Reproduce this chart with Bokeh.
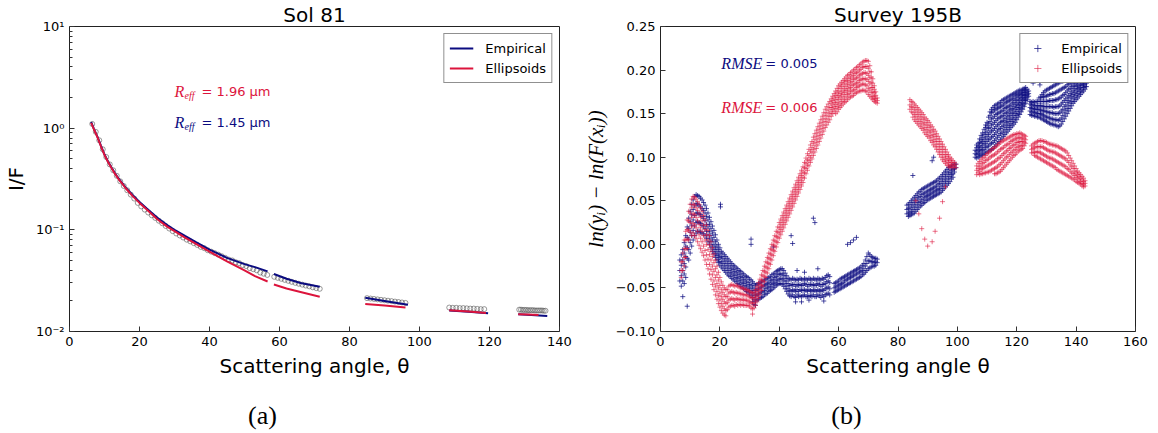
from bokeh.plotting import figure
from bokeh.layouts import row, column
from bokeh.models import (Range1d, FixedTicker, CustomJSTickFormatter, Label)
from bokeh.core.properties import value
from bokeh.embed import file_html
from bokeh.resources import INLINE

# ---------------- Panel (a): Sol 81 ----------------
emp_theta = [[6.2, 7, 8, 9, 10, 11, 12, 13, 14, 15, 16, 18, 20, 22, 25, 28, 30, 33, 36, 40, 45, 50, 53, 56.6],
             [58.4, 62, 66, 71.5], [84.5, 90, 96.7], [108.5, 114, 119.6], [128.2, 132, 136.5]]
emp_val = [[1.15, 0.98, 0.82, 0.67, 0.55, 0.47, 0.41, 0.36, 0.32, 0.29, 0.262, 0.22, 0.188, 0.163, 0.132,
            0.111, 0.100, 0.087, 0.076, 0.064, 0.053, 0.046, 0.043, 0.039],
           [0.0368, 0.033, 0.030, 0.0275], [0.0215, 0.020, 0.0183], [0.0161, 0.0156, 0.0151],
           [0.0148, 0.0145, 0.0142]]
ell_theta = [[6.2, 7, 8, 9, 10, 11, 12, 13, 14, 15, 16, 18, 20, 22, 25, 28, 30, 33, 36, 40, 45, 50, 53, 56.6],
             [58.4, 62, 66, 71.5], [84.5, 90, 96], [108.5, 114, 119], [128.2, 131, 134]]
ell_val = [[1.13, 0.97, 0.81, 0.66, 0.545, 0.465, 0.405, 0.355, 0.316, 0.286, 0.258, 0.216, 0.184, 0.159,
            0.128, 0.107, 0.097, 0.084, 0.073, 0.061, 0.049, 0.040, 0.035, 0.031],
           [0.029, 0.0265, 0.0245, 0.022], [0.0186, 0.018, 0.0172], [0.0162, 0.0157, 0.0152],
           [0.0148, 0.0147, 0.0145]]
obs_theta = [6.5, 7.5, 8.5, 9.5, 10.5, 11.5, 12.5, 13.5, 14.5, 15.5, 16.5, 17.5, 18.5, 19.5, 20.5, 21.5,
             22.5, 23.5, 24.5, 25.5, 26.5, 27.5, 28.5, 29.5, 30.5, 31.5, 32.5, 33.5, 34.5, 35.5, 36.5, 37.5,
             38.5, 39.5, 40.5, 41.5, 42.5, 43.5, 44.5, 45.5, 46.5, 47.5, 48.5, 49.5, 50.5, 51.5, 52.5, 53.5,
             54.5, 55.5, 56.5,
             58.5, 59.5, 60.5, 61.5, 62.5, 63.5, 64.5, 65.5, 66.5, 67.5, 68.5, 69.5, 70.5, 71.5,
             85, 86, 87, 88, 89, 90, 91, 92, 93, 94, 95, 96,
             108.5, 109.5, 110.5, 111.5, 112.5, 113.5, 114.5, 115.5, 116.5, 117.5, 118.5,
             128.5, 129, 129.5, 130, 130.5, 131, 131.5, 132, 132.5, 133, 133.5, 134, 134.5, 135, 135.5, 136]
obs_val = [1.10, 0.92, 0.76, 0.62, 0.52, 0.44, 0.385, 0.34, 0.30, 0.27, 0.245, 0.222, 0.203, 0.184, 0.170,
           0.158, 0.148, 0.139, 0.131, 0.123, 0.116, 0.109, 0.103, 0.097, 0.092, 0.088, 0.084, 0.080, 0.077,
           0.074, 0.071, 0.068, 0.066, 0.063, 0.061, 0.059, 0.057, 0.055, 0.053, 0.051, 0.050, 0.048, 0.047,
           0.045, 0.044, 0.042, 0.041, 0.040, 0.038, 0.037, 0.036,
           0.0345, 0.0337, 0.0330, 0.0322, 0.0315, 0.0308, 0.0301, 0.0295, 0.0289, 0.0283, 0.0278, 0.0272,
           0.0267, 0.0263,
           0.0213, 0.0211, 0.0209, 0.0207, 0.0205, 0.0203, 0.0201, 0.0199, 0.0197, 0.0195, 0.0193, 0.0191,
           0.0172, 0.0171, 0.0171, 0.0170, 0.0170, 0.0169, 0.0168, 0.0168, 0.0167, 0.0166, 0.0166,
           0.0164, 0.0164, 0.0163, 0.0163, 0.0163, 0.0162, 0.0162, 0.0162, 0.0162, 0.0161, 0.0161, 0.0161,
           0.0161, 0.0161, 0.0160, 0.0160]
a_xticks = [0, 20, 40, 60, 80, 100, 120, 140]
a_yticks = [0.01, 0.1, 1, 10]
a_reff = ["1.96", "1.45"]

# ---------------- Panel (b): Survey 195B ----------------
emp_rows = [
    (6.5, [-0.018, -0.03, -0.042]), (7.0, [-0.012, -0.024, -0.036, -0.048]),
    (7.5, [-0.006, -0.018, -0.03, -0.042, -0.06]), (8.0, [0.002, -0.01, -0.022, -0.034, -0.045]),
    (8.5, [0.01, -0.002, -0.014, -0.026, -0.038]), (9.0, [0.02, 0.008, -0.004, -0.016, -0.071]),
    (9.5, [0.03, 0.018, 0.006, -0.006, -0.018]), (10.0, [0.038, 0.026, 0.014, 0.002, -0.01]),
    (10.5, [0.046, 0.034, 0.022, 0.01, -0.002]), (11.0, [0.051, 0.04, 0.028, 0.016, 0.005]),
    (11.5, [0.055, 0.044, 0.033, 0.021, 0.01]), (12.0, [0.057, 0.047, 0.036, 0.025, 0.013]),
    (12.5, [0.056, 0.046, 0.036, 0.026, 0.015]), (13.0, [0.055, 0.045, 0.035, 0.025, 0.015]),
    (13.5, [0.053, 0.043, 0.034, 0.024, 0.014]), (14.0, [0.051, 0.041, 0.032, 0.022, 0.013]),
    (14.5, [0.048, 0.039, 0.03, 0.021, 0.012]), (15.0, [0.045, 0.036, 0.027, 0.018, 0.01]),
    (15.5, [0.041, 0.032, 0.023, 0.015, 0.007]), (16.0, [0.036, 0.028, 0.02, 0.011, 0.003]),
    (16.5, [0.031, 0.023, 0.015, 0.007, 0.0]), (17.0, [0.026, 0.018, 0.01, 0.003, -0.004]),
    (17.5, [0.021, 0.013, 0.005, -0.002, -0.008]), (18.0, [0.016, 0.008, 0.0, -0.006, -0.011]),
    (18.5, [0.011, 0.003, -0.004, -0.01, -0.015]), (19.0, [0.005, -0.002, -0.008, -0.013, -0.018]),
    (19.5, [0.0, -0.006, -0.012, -0.017, -0.021]), (20.0, [-0.004, -0.01, -0.015, -0.02, -0.024]),
    (20.2, [0.046, 0.043]),
    (20.5, [-0.008, -0.014, -0.02, -0.026]), (21.0, [-0.01, -0.016, -0.022, -0.028]),
    (21.5, [-0.012, -0.018, -0.024, -0.03]), (22.0, [-0.014, -0.02, -0.026, -0.032]),
    (22.5, [-0.016, -0.022, -0.028, -0.034]), (23.0, [-0.018, -0.024, -0.03, -0.036]),
    (23.5, [-0.02, -0.026, -0.032, -0.037]), (24.0, [-0.022, -0.028, -0.033, -0.039]),
    (24.5, [-0.024, -0.029, -0.035, -0.04]), (25.0, [-0.025, -0.031, -0.036, -0.042]),
    (25.5, [-0.027, -0.032, -0.038, -0.043]), (26.0, [-0.028, -0.034, -0.039, -0.045]),
    (26.5, [-0.03, -0.035, -0.041, -0.046]), (27.0, [-0.031, -0.037, -0.042, -0.048]),
    (27.5, [-0.033, -0.038, -0.044, -0.049]), (28.0, [-0.034, -0.04, -0.045, -0.051]),
    (28.5, [-0.036, -0.041, -0.047, -0.052]), (29.0, [-0.037, -0.043, -0.048, -0.054]),
    (29.5, [-0.038, -0.044, -0.05, -0.055]), (30.0, [-0.04, -0.046, -0.051, -0.057]),
    (30.5, [0.006, 0.0, -0.041, -0.047, -0.053, -0.059]), (31.0, [-0.043, -0.049, -0.055, -0.061, -0.066]),
    (31.5, [-0.045, -0.051, -0.057, -0.063, -0.069]), (32.0, [-0.047, -0.053, -0.059, -0.065, -0.07]),
    (32.5, [-0.046, -0.052, -0.058, -0.064]), (33.0, [-0.045, -0.051, -0.057, -0.063]),
    (33.5, [-0.044, -0.05, -0.056, -0.062]), (34.0, [-0.043, -0.049, -0.055, -0.061]),
    (34.5, [-0.042, -0.048, -0.054, -0.06]), (35.0, [-0.041, -0.047, -0.053, -0.058]),
    (35.5, [-0.04, -0.046, -0.051, -0.057]), (36.0, [-0.039, -0.045, -0.05, -0.056]),
    (36.5, [-0.038, -0.044, -0.049, -0.054]), (37.0, [-0.037, -0.042, -0.048, -0.053]),
    (37.5, [-0.035, -0.041, -0.046, -0.052]), (38.0, [-0.034, -0.04, -0.045, -0.05, -0.003]),
    (38.5, [-0.033, -0.038, -0.044, -0.049]), (39.0, [-0.031, -0.037, -0.042, -0.047]),
    (39.5, [-0.03, -0.035, -0.041, -0.046]), (40.0, [-0.029, -0.034, -0.04, -0.045]),
    (40.5, [-0.028, -0.034, -0.039, -0.045]), (41.0, [-0.028, -0.034, -0.04, -0.046]),
    (41.5, [-0.03, -0.036, -0.042, -0.048]), (42.0, [-0.033, -0.039, -0.045, -0.051]),
    (42.5, [-0.036, -0.042, -0.048, -0.054]), (43.0, [-0.039, -0.045, -0.051, -0.057]),
    (43.5, [-0.04, -0.047, -0.053, -0.059]), (44.0, [-0.041, -0.047, -0.054, -0.06, 0.01]),
    (44.5, [-0.039, -0.046, -0.052, -0.058, 0.001]), (45.0, [-0.04, -0.046, -0.053, -0.06]),
    (45.5, [-0.041, -0.048, -0.054, -0.061, -0.066]), (46.0, [-0.04, -0.046, -0.052, -0.058, -0.03]),
    (46.5, [-0.041, -0.047, -0.054, -0.06]), (47.0, [-0.039, -0.046, -0.052, -0.059]),
    (47.5, [-0.04, -0.047, -0.053, -0.06, -0.066]), (48.0, [-0.041, -0.047, -0.053, -0.059]),
    (48.5, [-0.039, -0.045, -0.052, -0.058, -0.032]), (49.0, [-0.04, -0.046, -0.053, -0.06]),
    (49.5, [-0.041, -0.048, -0.054, -0.06]), (50.0, [-0.039, -0.046, -0.052, -0.059, -0.064]),
    (50.5, [-0.04, -0.046, -0.053, -0.059]), (51.0, [-0.041, -0.047, -0.054, -0.06]),
    (51.5, [-0.039, -0.046, -0.052, -0.058, 0.03]), (52.0, [-0.04, -0.047, -0.053, -0.06, 0.025]),
    (52.5, [-0.041, -0.047, -0.054, -0.06]), (53.0, [-0.039, -0.045, -0.052, -0.058, -0.028]),
    (53.5, [-0.04, -0.046, -0.053, -0.059]), (54.0, [-0.041, -0.048, -0.054, -0.061]),
    (54.5, [-0.039, -0.046, -0.052, -0.058]), (55.0, [-0.04, -0.046, -0.053, -0.06, -0.065]),
    (55.5, [-0.038, -0.045, -0.051, -0.058]), (56.0, [-0.036, -0.043, -0.05, -0.057]),
    (56.5, [-0.035, -0.042, -0.049, -0.056]), (57.0, [-0.037, -0.044, -0.051, -0.058]),
    (58.5, [-0.045, -0.05, -0.055]), (59.0, [-0.044, -0.049, -0.054]), (59.5, [-0.043, -0.048, -0.053]),
    (60.0, [-0.042, -0.047, -0.052]), (60.5, [-0.04, -0.046, -0.051]), (61.0, [-0.039, -0.045, -0.05]),
    (61.5, [-0.038, -0.044, -0.049]), (62.0, [-0.037, -0.042, -0.048]), (62.5, [-0.036, -0.041, -0.047]),
    (63.0, [-0.035, -0.04, -0.046, 0.0]), (63.5, [-0.034, -0.039, -0.045]),
    (64.0, [-0.033, -0.038, -0.044, 0.002]), (64.5, [-0.032, -0.037, -0.043]),
    (65.0, [-0.031, -0.036, -0.042, 0.005]), (65.5, [-0.03, -0.035, -0.041]),
    (66.0, [-0.029, -0.034, -0.04, 0.008]), (66.5, [-0.028, -0.033, -0.039]),
    (67.0, [-0.027, -0.032, -0.038]), (67.5, [-0.026, -0.031, -0.037]), (68.0, [-0.024, -0.03, -0.035]),
    (68.5, [-0.022, -0.028, -0.034]), (69.0, [-0.018, -0.025, -0.032]), (69.5, [-0.014, -0.022, -0.03]),
    (70.0, [-0.01, -0.019, -0.028]), (70.5, [-0.012, -0.019, -0.027]), (71.0, [-0.014, -0.02, -0.026]),
    (71.5, [-0.015, -0.02, -0.025]), (72.0, [-0.016, -0.021, -0.025]), (72.5, [-0.016, -0.02, -0.024]),
    (73.0, [-0.017, -0.021]),
    (83.0, [0.045, 0.04, 0.035]), (83.5, [0.046, 0.041, 0.036, 0.032]), (84.0, [0.048, 0.042, 0.037, 0.033]),
    (84.5, [0.05, 0.044, 0.038, 0.034]), (85.0, [0.052, 0.046, 0.04, 0.035, 0.079]),
    (85.5, [0.054, 0.048, 0.042, 0.036]), (86.0, [0.056, 0.05, 0.044, 0.038]),
    (86.5, [0.058, 0.052, 0.046, 0.04]), (87.0, [0.06, 0.054, 0.048, 0.042]),
    (87.5, [0.061, 0.055, 0.049, 0.044]), (88.0, [0.063, 0.057, 0.051, 0.045]),
    (88.5, [0.064, 0.058, 0.052, 0.047]), (89.0, [0.065, 0.059, 0.054, 0.048]),
    (89.5, [0.066, 0.06, 0.055, 0.05]), (90.0, [0.067, 0.061, 0.056, 0.051]),
    (90.5, [0.068, 0.062, 0.057, 0.052]), (91.0, [0.069, 0.063, 0.058, 0.053]),
    (91.5, [0.07, 0.064, 0.059, 0.054, 0.096]), (92.0, [0.071, 0.065, 0.06, 0.055, 0.1]),
    (92.5, [0.072, 0.066, 0.061, 0.056]), (93.0, [0.073, 0.067, 0.062, 0.057]),
    (93.5, [0.075, 0.069, 0.063, 0.058]), (94.0, [0.076, 0.07, 0.064, 0.059]),
    (94.5, [0.078, 0.072, 0.066, 0.06]), (95.0, [0.08, 0.074, 0.068, 0.062]),
    (95.5, [0.082, 0.076, 0.07, 0.064]), (96.0, [0.084, 0.078, 0.072, 0.066]),
    (96.5, [0.086, 0.08, 0.074, 0.068]), (97.0, [0.088, 0.082, 0.076, 0.07]),
    (97.5, [0.089, 0.083, 0.078, 0.072]), (98.0, [0.09, 0.085, 0.08, 0.075]),
    (98.5, [0.091, 0.086, 0.081, 0.077]), (99.0, [0.092, 0.087, 0.083]), (99.5, [0.092, 0.088]),
    (106.0, [0.100, 0.104, 0.108]), (106.5, [0.099, 0.103, 0.107, 0.111, 0.114]),
    (107.0, [0.100, 0.104, 0.108, 0.112, 0.116]), (107.5, [0.101, 0.105, 0.109, 0.113, 0.117, 0.121]),
    (108.0, [0.102, 0.107, 0.111, 0.116, 0.120, 0.125]), (108.5, [0.103, 0.108, 0.113, 0.118, 0.123, 0.128]),
    (109.0, [0.104, 0.109, 0.115, 0.120, 0.126, 0.132]), (109.5, [0.105, 0.111, 0.116, 0.122, 0.128, 0.134, 0.137]),
    (110.0, [0.106, 0.112, 0.118, 0.124, 0.130, 0.136, 0.140]),
    (110.5, [0.107, 0.113, 0.120, 0.126, 0.133, 0.139, 0.146]),
    (111.0, [0.108, 0.115, 0.121, 0.128, 0.134, 0.141, 0.148, 0.152]),
    (111.5, [0.109, 0.116, 0.123, 0.130, 0.137, 0.144, 0.151, 0.155]),
    (112.0, [0.110, 0.117, 0.124, 0.131, 0.138, 0.145, 0.152, 0.157]),
    (112.5, [0.112, 0.119, 0.126, 0.133, 0.140, 0.147, 0.154, 0.159]),
    (113.0, [0.114, 0.121, 0.128, 0.135, 0.142, 0.149, 0.155, 0.160]),
    (113.5, [0.116, 0.123, 0.130, 0.137, 0.144, 0.150, 0.156, 0.161]),
    (114.0, [0.118, 0.125, 0.132, 0.138, 0.145, 0.151, 0.157, 0.162]),
    (114.5, [0.120, 0.127, 0.133, 0.140, 0.146, 0.152, 0.158, 0.163]),
    (115.0, [0.122, 0.128, 0.135, 0.141, 0.147, 0.153, 0.159, 0.165]),
    (115.5, [0.124, 0.130, 0.136, 0.142, 0.148, 0.154, 0.160, 0.166]),
    (116.0, [0.126, 0.132, 0.138, 0.144, 0.150, 0.156, 0.162, 0.167]),
    (116.5, [0.128, 0.134, 0.140, 0.145, 0.151, 0.157, 0.163, 0.168]),
    (117.0, [0.130, 0.136, 0.141, 0.147, 0.152, 0.158, 0.164, 0.169]),
    (117.5, [0.132, 0.137, 0.143, 0.148, 0.154, 0.159, 0.165, 0.170]),
    (118.0, [0.134, 0.139, 0.144, 0.150, 0.155, 0.160, 0.166, 0.171]),
    (118.5, [0.136, 0.141, 0.146, 0.151, 0.156, 0.162, 0.167, 0.172]),
    (119.0, [0.138, 0.143, 0.148, 0.153, 0.158, 0.163, 0.168, 0.173]),
    (119.5, [0.140, 0.145, 0.150, 0.155, 0.160, 0.165, 0.170, 0.174]),
    (120.0, [0.143, 0.148, 0.152, 0.157, 0.161, 0.166, 0.171, 0.175]),
    (120.5, [0.146, 0.150, 0.155, 0.159, 0.163, 0.168, 0.172, 0.176]),
    (121.0, [0.149, 0.153, 0.157, 0.161, 0.165, 0.169, 0.173, 0.177]),
    (121.5, [0.152, 0.156, 0.160, 0.163, 0.167, 0.171, 0.174, 0.177]),
    (122.0, [0.155, 0.159, 0.162, 0.166, 0.169, 0.172, 0.175, 0.178]),
    (122.5, [0.158, 0.161, 0.165, 0.168, 0.171, 0.174, 0.177, 0.179]),
    (123.0, [0.162, 0.165, 0.168, 0.171, 0.174, 0.177, 0.180]),
    (123.5, [0.166, 0.169, 0.172, 0.175, 0.178]), (124.0, [0.170, 0.173, 0.176]),
    (125.5, [0.188, 0.185]), (127.8, [0.187, 0.183]),
    (124.5, [0.149, 0.153, 0.157, 0.161, 0.164]), (125.0, [0.148, 0.152, 0.156, 0.160, 0.163]),
    (125.5, [0.148, 0.152, 0.156, 0.160, 0.164]), (126.0, [0.147, 0.151, 0.155, 0.159, 0.163]),
    (126.5, [0.147, 0.151, 0.155, 0.159, 0.164]), (127.0, [0.146, 0.150, 0.155, 0.159, 0.164]),
    (127.5, [0.146, 0.150, 0.155, 0.159, 0.164, 0.168]), (128.0, [0.145, 0.150, 0.154, 0.159, 0.164, 0.169]),
    (128.5, [0.144, 0.149, 0.154, 0.159, 0.164, 0.169, 0.172]),
    (129.0, [0.143, 0.148, 0.153, 0.158, 0.164, 0.169, 0.174]),
    (129.5, [0.142, 0.147, 0.153, 0.158, 0.164, 0.170, 0.176]),
    (130.0, [0.141, 0.146, 0.152, 0.158, 0.164, 0.170, 0.177]),
    (130.5, [0.140, 0.146, 0.152, 0.158, 0.164, 0.171, 0.178]),
    (131.0, [0.139, 0.145, 0.151, 0.158, 0.165, 0.172, 0.179]),
    (131.5, [0.138, 0.144, 0.151, 0.158, 0.165, 0.172, 0.180]),
    (132.0, [0.138, 0.144, 0.151, 0.158, 0.165, 0.173, 0.181]),
    (132.5, [0.137, 0.143, 0.150, 0.157, 0.165, 0.173, 0.182]),
    (133.0, [0.137, 0.143, 0.150, 0.158, 0.166, 0.174, 0.183]),
    (133.5, [0.136, 0.143, 0.150, 0.158, 0.166, 0.175, 0.184]),
    (134.0, [0.135, 0.142, 0.150, 0.158, 0.167, 0.176, 0.185]),
    (134.5, [0.136, 0.143, 0.151, 0.159, 0.168, 0.177, 0.186]),
    (135.0, [0.138, 0.145, 0.153, 0.161, 0.169, 0.178, 0.187]),
    (135.5, [0.141, 0.148, 0.155, 0.163, 0.171, 0.179, 0.187]),
    (136.0, [0.144, 0.151, 0.158, 0.165, 0.172, 0.180, 0.188]),
    (136.5, [0.147, 0.154, 0.160, 0.167, 0.174, 0.181, 0.189]),
    (137.0, [0.150, 0.156, 0.163, 0.169, 0.176, 0.183, 0.190]),
    (137.5, [0.153, 0.159, 0.165, 0.171, 0.178, 0.184, 0.190]),
    (138.0, [0.156, 0.162, 0.168, 0.173, 0.179, 0.185, 0.191]),
    (138.5, [0.159, 0.164, 0.170, 0.175, 0.181, 0.186, 0.192]),
    (139.0, [0.162, 0.167, 0.172, 0.177, 0.182, 0.187, 0.192]),
    (139.5, [0.164, 0.169, 0.174, 0.179, 0.184, 0.189, 0.193]),
    (140.0, [0.166, 0.171, 0.176, 0.181, 0.185, 0.190, 0.194]),
    (140.5, [0.168, 0.173, 0.178, 0.182, 0.187, 0.191, 0.195]),
    (141.0, [0.170, 0.175, 0.179, 0.183, 0.188, 0.192, 0.195]),
    (141.5, [0.172, 0.176, 0.180, 0.184, 0.188, 0.192]), (142.0, [0.174, 0.178, 0.182, 0.185, 0.189, 0.192]),
    (142.5, [0.176, 0.180, 0.183, 0.186, 0.189]), (143.0, [0.178, 0.181, 0.184, 0.187]),
    (143.5, [0.181, 0.185]),
]
ell_rows = [
    (7.0, [-0.02, -0.03, -0.038]), (7.5, [-0.01, -0.02, -0.03]), (8.0, [0.005, -0.005, -0.015, -0.025]),
    (8.5, [0.015, 0.005, -0.005, -0.015]), (9.0, [0.028, 0.017, 0.006, -0.005]),
    (9.5, [0.038, 0.027, 0.016, 0.005]), (10.0, [0.046, 0.036, 0.025, 0.014]),
    (10.5, [0.052, 0.042, 0.031, 0.02, 0.01]), (11.0, [0.055, 0.046, 0.035, 0.024, 0.013]),
    (11.5, [0.054, 0.045, 0.034, 0.022, 0.01]), (12.0, [0.052, 0.042, 0.031, 0.019, 0.007]),
    (12.5, [0.049, 0.039, 0.027, 0.015, 0.003]), (13.0, [0.046, 0.035, 0.023, 0.011, -0.001]),
    (13.5, [0.042, 0.031, 0.019, 0.007, -0.005]), (14.0, [0.038, 0.027, 0.015, 0.003, -0.009]),
    (14.5, [0.033, 0.022, 0.01, -0.002, -0.013]), (15.0, [0.028, 0.017, 0.005, -0.007, -0.018]),
    (15.5, [0.022, 0.011, 0.0, -0.012, -0.023]), (16.0, [0.016, 0.005, -0.006, -0.017, -0.028]),
    (16.5, [0.01, -0.001, -0.012, -0.023, -0.034]), (17.0, [0.003, -0.008, -0.018, -0.029, -0.04]),
    (17.5, [-0.004, -0.014, -0.025, -0.035, -0.046]), (18.0, [-0.011, -0.021, -0.031, -0.042, -0.052]),
    (18.5, [-0.018, -0.028, -0.038, -0.048, -0.058]), (19.0, [-0.025, -0.035, -0.045, -0.054, -0.063]),
    (19.5, [-0.032, -0.041, -0.05, -0.059, -0.068]), (20.0, [-0.038, -0.047, -0.056, -0.064, -0.072]),
    (20.5, [-0.043, -0.052, -0.06, -0.068, -0.076]), (21.0, [-0.047, -0.055, -0.063, -0.071, -0.079]),
    (21.5, [-0.05, -0.058, -0.066, -0.074, -0.081]), (22.0, [-0.052, -0.06, -0.068, -0.076, -0.082]),
    (22.5, [-0.052, -0.06, -0.067, -0.075]), (23.0, [-0.048, -0.056, -0.064, -0.072]),
    (23.5, [-0.047, -0.055, -0.063, -0.071]), (24.0, [-0.046, -0.054, -0.062, -0.07]),
    (24.5, [-0.047, -0.055, -0.063, -0.07]), (25.0, [-0.048, -0.056, -0.064, -0.071]),
    (25.5, [-0.047, -0.055, -0.062, -0.069]), (26.0, [-0.048, -0.056, -0.063, -0.07]),
    (26.5, [-0.049, -0.056, -0.063, -0.069]), (27.0, [-0.05, -0.057, -0.064, -0.07]),
    (27.5, [-0.05, -0.057, -0.063, -0.069]), (28.0, [-0.051, -0.058, -0.064, -0.07]),
    (28.5, [-0.052, -0.058, -0.064, -0.07]), (29.0, [-0.052, -0.058, -0.064, -0.07]),
    (29.5, [-0.053, -0.059, -0.065, -0.07]), (30.0, [-0.054, -0.06, -0.066, -0.071]),
    (30.5, [-0.055, -0.061, -0.067, -0.073]), (31.0, [-0.056, -0.062, -0.068, -0.074, -0.08]),
    (31.5, [-0.055, -0.061, -0.067, -0.073]), (32.0, [-0.052, -0.058, -0.064, -0.07]),
    (32.5, [-0.048, -0.054, -0.06, -0.066]), (33.0, [-0.044, -0.05, -0.056, -0.062]),
    (33.5, [-0.04, -0.046, -0.052, -0.058]), (34.0, [-0.035, -0.041, -0.047, -0.053]),
    (34.5, [-0.03, -0.036, -0.042, -0.048]), (35.0, [-0.025, -0.031, -0.037, -0.043]),
    (35.5, [-0.02, -0.026, -0.032, -0.038]), (36.0, [-0.015, -0.021, -0.027, -0.033]),
    (36.5, [-0.01, -0.016, -0.022, -0.028]), (37.0, [-0.005, -0.011, -0.017, -0.023]),
    (37.5, [0.0, -0.006, -0.012, -0.018]), (38.0, [0.005, -0.001, -0.007, -0.013]),
    (38.5, [0.01, 0.004, -0.002, -0.008]), (39.0, [0.015, 0.009, 0.003, -0.003]),
    (39.5, [0.02, 0.014, 0.008, 0.002]), (40.0, [0.025, 0.019, 0.013, 0.007]),
    (40.5, [0.029, 0.023, 0.017, 0.011]), (41.0, [0.033, 0.027, 0.021, 0.015]),
    (41.5, [0.037, 0.031, 0.025, 0.019]), (42.0, [0.041, 0.035, 0.029, 0.023]),
    (42.5, [0.045, 0.039, 0.033, 0.027]), (43.0, [0.049, 0.043, 0.037, 0.031]),
    (43.5, [0.053, 0.047, 0.041, 0.035]), (44.0, [0.057, 0.051, 0.045, 0.039]),
    (44.5, [0.061, 0.055, 0.049, 0.043]), (45.0, [0.065, 0.059, 0.053, 0.047]),
    (45.5, [0.069, 0.063, 0.057, 0.051]), (46.0, [0.073, 0.067, 0.061, 0.055]),
    (46.5, [0.077, 0.071, 0.065, 0.059]), (47.0, [0.081, 0.075, 0.069, 0.063]),
    (47.5, [0.085, 0.079, 0.073, 0.067]), (48.0, [0.089, 0.083, 0.077, 0.071]),
    (48.5, [0.094, 0.088, 0.082, 0.076]), (49.0, [0.099, 0.093, 0.087, 0.081]),
    (49.5, [0.104, 0.097, 0.091, 0.085]), (50.0, [0.109, 0.102, 0.096, 0.09]),
    (50.5, [0.114, 0.107, 0.1, 0.094]), (51.0, [0.118, 0.111, 0.105, 0.098]),
    (51.5, [0.123, 0.116, 0.109, 0.102]), (52.0, [0.127, 0.12, 0.113, 0.106]),
    (52.5, [0.131, 0.124, 0.117, 0.11]), (53.0, [0.135, 0.128, 0.121, 0.114]),
    (53.5, [0.139, 0.132, 0.125, 0.118]), (54.0, [0.143, 0.136, 0.129, 0.122]),
    (54.5, [0.147, 0.14, 0.133, 0.126]), (55.0, [0.151, 0.144, 0.137, 0.13]),
    (55.5, [0.155, 0.148, 0.141, 0.134]), (56.0, [0.158, 0.151, 0.144, 0.137]),
    (56.5, [0.161, 0.154, 0.147, 0.14]), (57.0, [0.164, 0.157, 0.15, 0.143]),
    (57.5, [0.167, 0.162, 0.157, 0.152, 0.147]), (58.0, [0.170, 0.165, 0.160, 0.155, 0.150]),
    (58.5, [0.173, 0.168, 0.163, 0.158, 0.153]), (59.0, [0.176, 0.171, 0.166, 0.161, 0.156, 0.150]),
    (59.5, [0.179, 0.174, 0.169, 0.163, 0.158, 0.152]), (60.0, [0.182, 0.176, 0.171, 0.166, 0.160, 0.155]),
    (60.5, [0.184, 0.179, 0.173, 0.168, 0.162, 0.157]), (61.0, [0.186, 0.181, 0.175, 0.170, 0.164, 0.159]),
    (61.5, [0.188, 0.183, 0.177, 0.172, 0.166, 0.161]), (62.0, [0.190, 0.185, 0.179, 0.174, 0.168, 0.163]),
    (62.5, [0.192, 0.187, 0.181, 0.176, 0.170, 0.164]), (63.0, [0.194, 0.188, 0.183, 0.177, 0.172, 0.166]),
    (63.5, [0.195, 0.190, 0.184, 0.179, 0.173, 0.168]), (64.0, [0.197, 0.191, 0.186, 0.180, 0.175, 0.169]),
    (64.5, [0.198, 0.193, 0.187, 0.182, 0.176, 0.170]), (65.0, [0.200, 0.194, 0.189, 0.183, 0.177, 0.171]),
    (65.5, [0.201, 0.196, 0.190, 0.184, 0.178, 0.173]), (66.0, [0.203, 0.197, 0.191, 0.185, 0.180, 0.174]),
    (66.5, [0.204, 0.198, 0.192, 0.186, 0.181, 0.175]), (67.0, [0.206, 0.200, 0.194, 0.188, 0.182, 0.176]),
    (67.5, [0.207, 0.201, 0.195, 0.189, 0.183, 0.176]), (68.0, [0.209, 0.203, 0.196, 0.190, 0.184, 0.177]),
    (68.5, [0.210, 0.204, 0.197, 0.190, 0.184, 0.177]), (69.0, [0.211, 0.204, 0.197, 0.190, 0.183, 0.176]),
    (69.5, [0.211, 0.204, 0.196, 0.189, 0.182, 0.175]), (70.0, [0.210, 0.202, 0.194, 0.187, 0.179, 0.172]),
    (70.5, [0.205, 0.198, 0.191, 0.184, 0.177, 0.170]), (71.0, [0.198, 0.192, 0.186, 0.180, 0.174, 0.168]),
    (71.5, [0.190, 0.185, 0.180, 0.175, 0.170, 0.166]), (72.0, [0.182, 0.178, 0.174, 0.170, 0.167, 0.164]),
    (72.5, [0.175, 0.171, 0.167, 0.163]), (73.0, [0.168, 0.165, 0.162]),
    (84.0, [0.166, 0.16, 0.155]), (84.5, [0.164, 0.158, 0.152]), (85.0, [0.163, 0.157, 0.151, 0.146]),
    (85.5, [0.161, 0.155, 0.149, 0.143]), (86.0, [0.159, 0.153, 0.147, 0.141, 0.05]),
    (86.5, [0.157, 0.151, 0.145, 0.139]), (87.0, [0.155, 0.149, 0.143, 0.137, 0.035]),
    (87.5, [0.153, 0.147, 0.141, 0.135]), (88.0, [0.151, 0.145, 0.139, 0.133, 0.018]),
    (88.5, [0.149, 0.143, 0.137, 0.131]), (89.0, [0.146, 0.14, 0.134, 0.128, 0.006]),
    (89.5, [0.144, 0.138, 0.132, 0.126]), (90.0, [0.142, 0.136, 0.13, 0.124, -0.002]),
    (90.5, [0.14, 0.134, 0.128, 0.122]), (91.0, [0.137, 0.131, 0.125, 0.119]),
    (91.5, [0.135, 0.129, 0.123, 0.117, 0.003]), (92.0, [0.132, 0.126, 0.12, 0.114]),
    (92.5, [0.13, 0.124, 0.118, 0.112, 0.015]), (93.0, [0.127, 0.121, 0.115, 0.109]),
    (93.5, [0.124, 0.118, 0.112, 0.106]), (94.0, [0.121, 0.115, 0.109, 0.103, 0.03]),
    (94.5, [0.118, 0.112, 0.106, 0.1]), (95.0, [0.115, 0.109, 0.103, 0.097, 0.049]),
    (95.5, [0.112, 0.106, 0.1, 0.095]), (96.0, [0.109, 0.103, 0.098, 0.093, 0.066]),
    (96.5, [0.106, 0.101, 0.096, 0.091]), (97.0, [0.103, 0.098, 0.094, 0.09]),
    (97.5, [0.1, 0.096, 0.092, 0.088]), (98.0, [0.098, 0.094, 0.09]), (98.5, [0.096, 0.092, 0.088]),
    (99.0, [0.094, 0.09]), (99.5, [0.092, 0.088]),
    (106.5, [0.09, 0.085, 0.08]), (107.0, [0.093, 0.087, 0.082]), (107.5, [0.095, 0.089, 0.084, 0.08]),
    (108.0, [0.097, 0.091, 0.086, 0.081]), (108.5, [0.099, 0.093, 0.087, 0.081]),
    (109.0, [0.1, 0.094, 0.088, 0.082]), (109.5, [0.102, 0.096, 0.089, 0.082]),
    (110.0, [0.104, 0.097, 0.09, 0.083]), (110.5, [0.105, 0.098, 0.091, 0.083]),
    (111.0, [0.107, 0.1, 0.092, 0.084]), (111.5, [0.108, 0.101, 0.093, 0.085]),
    (112.0, [0.11, 0.102, 0.094, 0.086]), (112.5, [0.111, 0.103, 0.095, 0.087, 0.081]),
    (113.0, [0.112, 0.104, 0.096, 0.088, 0.081]), (113.5, [0.114, 0.106, 0.098, 0.089, 0.082]),
    (114.0, [0.115, 0.107, 0.099, 0.091, 0.083]), (114.5, [0.117, 0.109, 0.1, 0.092, 0.084]),
    (115.0, [0.118, 0.11, 0.102, 0.094, 0.086]), (115.5, [0.119, 0.111, 0.104, 0.096, 0.088]),
    (116.0, [0.12, 0.113, 0.105, 0.098, 0.09]), (116.5, [0.121, 0.114, 0.107, 0.1, 0.092]),
    (117.0, [0.122, 0.115, 0.108, 0.101, 0.094]), (117.5, [0.123, 0.116, 0.11, 0.103, 0.096]),
    (118.0, [0.124, 0.118, 0.111, 0.105, 0.098]), (118.5, [0.125, 0.119, 0.113, 0.106, 0.1]),
    (119.0, [0.126, 0.12, 0.114, 0.108, 0.102]), (119.5, [0.126, 0.121, 0.115, 0.109, 0.103]),
    (120.0, [0.127, 0.122, 0.117, 0.111, 0.105]), (120.5, [0.127, 0.122, 0.117, 0.112, 0.107]),
    (121.0, [0.128, 0.123, 0.118, 0.113, 0.108]), (121.5, [0.127, 0.122, 0.118, 0.113, 0.109]),
    (122.0, [0.126, 0.122, 0.118, 0.114, 0.11]), (122.5, [0.125, 0.121, 0.117, 0.113]),
    (123.0, [0.124, 0.12, 0.116]),
    (125.0, [0.113, 0.109, 0.105]), (125.5, [0.115, 0.11, 0.105]), (126.0, [0.116, 0.111, 0.106, 0.102]),
    (126.5, [0.117, 0.112, 0.106, 0.101]), (127.0, [0.118, 0.112, 0.106, 0.1]),
    (127.5, [0.119, 0.112, 0.106, 0.099]), (128.0, [0.119, 0.112, 0.105, 0.098]),
    (128.5, [0.119, 0.112, 0.104, 0.097]), (129.0, [0.118, 0.111, 0.103, 0.096]),
    (129.5, [0.118, 0.11, 0.102, 0.095]), (130.0, [0.117, 0.109, 0.101, 0.094]),
    (130.5, [0.116, 0.108, 0.1, 0.093]), (131.0, [0.115, 0.107, 0.099, 0.092]),
    (131.5, [0.115, 0.107, 0.099, 0.091]), (132.0, [0.114, 0.106, 0.098, 0.09]),
    (132.5, [0.114, 0.106, 0.097, 0.089]), (133.0, [0.113, 0.105, 0.096, 0.088]),
    (133.5, [0.113, 0.104, 0.095, 0.086]), (134.0, [0.112, 0.103, 0.094, 0.085]),
    (134.5, [0.111, 0.102, 0.093, 0.084]), (135.0, [0.11, 0.101, 0.092, 0.083]),
    (135.5, [0.109, 0.1, 0.091, 0.082]), (136.0, [0.108, 0.099, 0.09, 0.081]),
    (136.5, [0.107, 0.098, 0.089, 0.08]), (137.0, [0.105, 0.096, 0.087, 0.079]),
    (137.5, [0.102, 0.094, 0.086, 0.078]), (138.0, [0.099, 0.091, 0.084, 0.077]),
    (138.5, [0.096, 0.089, 0.082, 0.076]), (139.0, [0.093, 0.087, 0.081, 0.075]),
    (139.5, [0.09, 0.084, 0.079, 0.074]), (140.0, [0.087, 0.082, 0.077, 0.072]),
    (140.5, [0.084, 0.08, 0.076, 0.071]), (141.0, [0.082, 0.078, 0.074, 0.07]),
    (141.5, [0.08, 0.076, 0.072, 0.069]), (142.0, [0.078, 0.074, 0.07, 0.067]),
    (142.5, [0.076, 0.072, 0.069, 0.066]), (143.0, [0.073, 0.07, 0.067]),
]
b_xticks = [0, 20, 40, 60, 80, 100, 120, 140, 160]
b_yticks = [-0.10, -0.05, 0.0, 0.05, 0.10, 0.15, 0.20, 0.25]
b_rmse = ["0.005", "0.006"]
captions = ["(a)", "(b)"]

NAVY = "#0b0b80"
CRIMSON = "#dc143c"
SANS = "DejaVu Sans"
SERIF = "Liberation Serif"
W1, W2, H, HC = 580, 578, 392, 41


def flatten(rows):
    xs, ys = [], []
    for t, vals in rows:
        for v in vals:
            xs.append(t)
            ys.append(v)
    return xs, ys


def style_common(p, title):
    p.grid.visible = False
    p.outline_line_color = "#222222"
    p.outline_line_width = 1
    p.background_fill_color = "white"
    p.border_fill_color = "white"
    p.title.text = title
    p.title.align = "center"
    p.title.text_font = SANS
    p.title.text_font_size = "20px"
    p.title.text_font_style = "normal"
    p.title.text_color = "black"
    p.title.standoff = 0
    for ax in p.xaxis + p.yaxis:
        ax.axis_line_color = None
        ax.major_tick_in = 5
        ax.major_tick_out = 0
        ax.major_tick_line_color = "#333333"
        ax.major_label_text_font = SANS
        ax.major_label_text_font_size = "13px"
        ax.major_label_text_color = "black"
        ax.axis_label_text_font = SANS
        ax.axis_label_text_font_size = "20px"
        ax.axis_label_text_font_style = "normal"
        ax.axis_label_text_color = "black"


# ---------- figure (a) ----------
p1 = figure(width=W1, height=H, y_axis_type="log", x_range=Range1d(0, 140), y_range=Range1d(0.01, 10),
            output_backend="svg", toolbar_location=None,
            min_border_left=62, min_border_right=21, min_border_top=24, min_border_bottom=61)
style_common(p1, "Sol 81")
p1.xaxis.ticker = FixedTicker(ticks=a_xticks)
p1.xaxis.minor_tick_line_color = None
p1.xaxis.axis_label = "Scattering angle, θ"
logminor = [m * d for d in (0.01, 0.1, 1) for m in (2, 3, 4, 5, 6, 7, 8, 9)]
p1.yaxis.ticker = FixedTicker(ticks=a_yticks, minor_ticks=logminor)
p1.yaxis.minor_tick_in = 3
p1.yaxis.minor_tick_out = 0
p1.yaxis.minor_tick_line_color = "#333333"
p1.yaxis.axis_label = "I/F"
p1.yaxis.formatter = CustomJSTickFormatter(code="""
    const e = Math.round(Math.log10(tick));
    const sup = {'-': '\\u207b', '0': '\\u2070', '1': '\\u00b9', '2': '\\u00b2', '3': '\\u00b3'};
    return '10' + String(e).split('').map(c => sup[c]).join('');
""")

p1.scatter(obs_theta, obs_val, marker="circle", size=5, fill_color=None, line_color="#555555",
           line_alpha=0.75, line_width=0.8)
p1.multi_line(xs=emp_theta, ys=emp_val, line_color=NAVY, line_width=2, legend_label="Empirical")
p1.multi_line(xs=ell_theta, ys=ell_val, line_color=CRIMSON, line_width=2, legend_label="Ellipsoids")

for (yv, txt, col) in [(2.3, a_reff[0], CRIMSON), (1.13, a_reff[1], NAVY)]:
    p1.add_layout(Label(x=30, y=yv, text="R", text_font=SERIF, text_font_style="italic",
                        text_font_size="16px", text_color=col, text_baseline="middle"))
    p1.add_layout(Label(x=30, y=yv, x_offset=10, y_offset=-4, text="eff", text_font=SERIF,
                        text_font_style="italic", text_font_size="10px", text_color=col,
                        text_baseline="middle"))
    p1.add_layout(Label(x=30, y=yv, x_offset=27, text="= " + txt + " μm", text_font=SANS,
                        text_font_size="13px", text_color=col, text_baseline="middle"))

# ---------- figure (b) ----------
p2 = figure(width=W2, height=H, x_range=Range1d(0, 160), y_range=Range1d(-0.10, 0.25),
            output_backend="svg", toolbar_location=None,
            min_border_left=75, min_border_right=23, min_border_top=24, min_border_bottom=61)
style_common(p2, "Survey 195B")
p2.xaxis.ticker = FixedTicker(ticks=b_xticks)
p2.xaxis.minor_tick_line_color = None
p2.xaxis.axis_label = "Scattering angle θ"
p2.yaxis.ticker = FixedTicker(ticks=b_yticks)
p2.yaxis.minor_tick_line_color = None
p2.yaxis.formatter = CustomJSTickFormatter(code="""
    const s = Math.abs(tick).toFixed(2);
    return (tick < -1e-9 ? '\\u2212' : '') + s;
""")
p2.yaxis.axis_label = "ln(yᵢ) − ln(F(xᵢ))"
p2.yaxis.axis_label_text_font = SERIF
p2.yaxis.axis_label_text_font_style = "italic"
p2.yaxis.axis_label_text_font_size = "21px"

ex, ey = flatten(emp_rows)
lx, ly = flatten(ell_rows)
p2.scatter(ex, ey, marker="cross", size=5, line_color=NAVY, line_alpha=0.8, line_width=0.9,
           legend_label="Empirical")
p2.scatter(lx, ly, marker="cross", size=5, line_color=CRIMSON, line_alpha=0.65, line_width=0.9,
           legend_label="Ellipsoids")

for (yv, txt, col) in [(0.208, b_rmse[0], NAVY), (0.157, b_rmse[1], CRIMSON)]:
    p2.add_layout(Label(x=20.5, y=yv, text="RMSE", text_font=SERIF, text_font_style="italic",
                        text_font_size="16px", text_color=col, text_baseline="middle"))
    p2.add_layout(Label(x=20.5, y=yv, x_offset=44, text="= " + txt, text_font=SANS,
                        text_font_size="13px", text_color=col, text_baseline="middle"))

for p in (p1, p2):
    lg = p.legend[0]
    lg.location = "top_right"
    lg.margin = 7
    lg.padding = 5
    lg.spacing = 2
    lg.label_text_font = SANS
    lg.label_text_font_size = "13px"
    lg.label_text_color = "black"
    lg.label_standoff = 12
    lg.glyph_width = 24
    lg.glyph_height = 18
    lg.label_height = 18
    lg.border_line_color = "#222222"
    lg.border_line_width = 1
    lg.background_fill_alpha = 1


# ---------- caption strips under each panel ----------
def caption_strip(width, text, xpos):
    c = figure(width=width, height=HC, x_range=Range1d(0, width), y_range=Range1d(0, HC),
               output_backend="svg", toolbar_location=None, min_border=0)
    c.axis.visible = False
    c.grid.visible = False
    c.outline_line_color = None
    c.text(x=[xpos], y=[HC - 23], text=[text], text_font=value(SERIF), text_font_size="26px",
           text_color="black", text_align="center", text_baseline="middle")
    return c


cap1 = caption_strip(W1, captions[0], 262)
cap2 = caption_strip(W2, captions[1], 266)

layout = column(row(p1, p2), row(cap1, cap2))
open("out.html", "w").write(file_html(layout, INLINE))
